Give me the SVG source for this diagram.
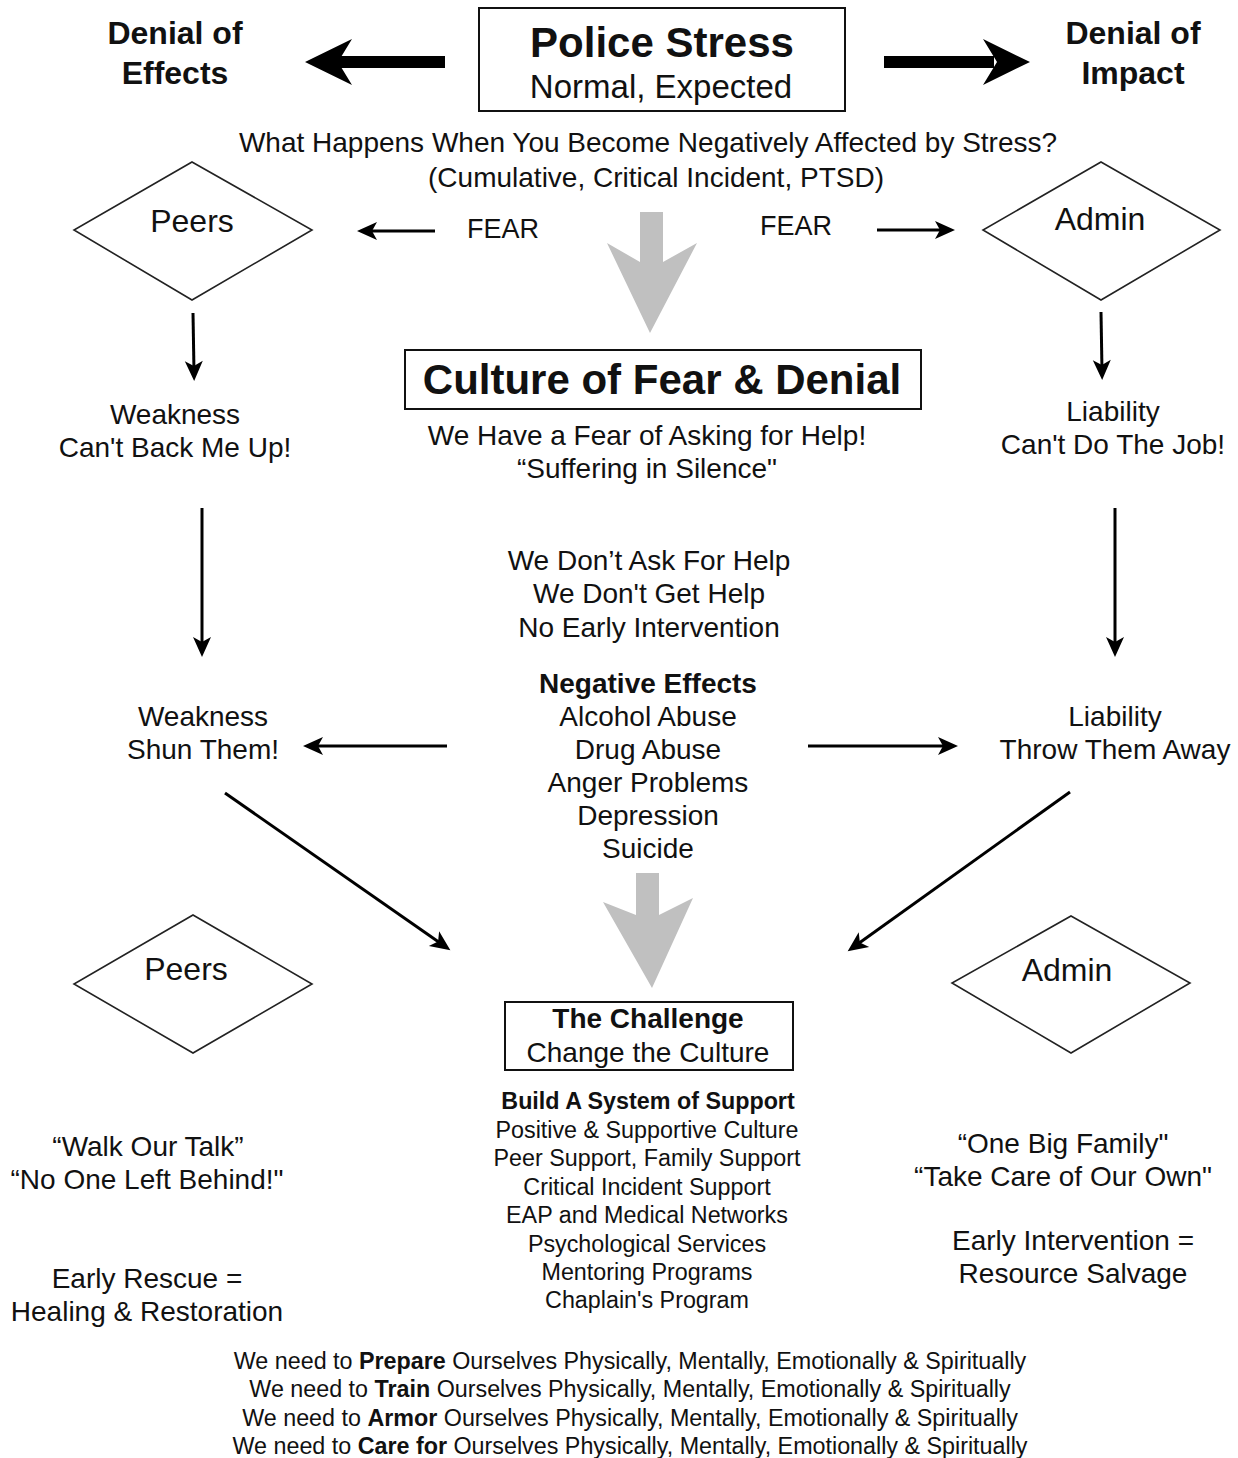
<svg xmlns="http://www.w3.org/2000/svg" width="1238" height="1458" viewBox="0 0 1238 1458">
<style>
  text { font-family: "Liberation Sans", Arial, Helvetica, sans-serif; fill: #111; text-anchor: middle; }
  .t28 { font-size: 28px; }
  .t23 { font-size: 23px; }
  .t23b { font-size: 23.3px; }
  .b { font-weight: bold; }
  .box { fill: #fff; stroke: #111; stroke-width: 2; }
  .diamond { fill: #fff; stroke: #222; stroke-width: 1.6; }
  .thin { stroke: #000; stroke-width: 3; fill: none; marker-end: url(#head); }
  .big { fill: #000; }
  .gray { fill: #c0c0c0; }
</style>
<defs>
  <marker id="head" markerUnits="userSpaceOnUse" markerWidth="22" markerHeight="20" refX="11" refY="9" orient="auto" overflow="visible">
    <path d="M0,0 L20,9 L0,18 L5,9 z" fill="#000"/>
  </marker>
</defs>
<rect width="1238" height="1458" fill="#fff"/>

<g id="connectors">
  <g id="arrow-denial-effects">
    <rect class="big" x="336" y="56" width="109" height="12"/>
    <polygon class="big" points="305,62 352,39 338,62 352,85"/>
  </g>
  <g id="arrow-denial-impact">
    <rect class="big" x="884" y="56" width="110" height="12"/>
    <polygon class="big" points="1030,62 983,39 997,62 983,85"/>
  </g>
  <line class="thin" x1="435" y1="231" x2="366" y2="231"/>
  <line class="thin" x1="877" y1="230" x2="946" y2="230"/>
  <polygon class="gray" points="640,212 663,212 663,262 697,243 650,333 607,243 640,262"/>
  <line class="thin" x1="193" y1="313" x2="194" y2="372"/>
  <line class="thin" x1="1101" y1="312" x2="1102" y2="371"/>
  <line class="thin" x1="202" y1="508" x2="202" y2="648"/>
  <line class="thin" x1="1115" y1="508" x2="1115" y2="648"/>
  <line class="thin" x1="447" y1="746" x2="312" y2="746"/>
  <line class="thin" x1="808" y1="746" x2="949" y2="746"/>
  <line class="thin" x1="225" y1="793" x2="443" y2="945"/>
  <line class="thin" x1="1070" y1="792" x2="855" y2="946"/>
  <polygon class="gray" points="636,873 659,873 659,915 693,898 652,988 603,902 636,915"/>
</g>

<g id="police-stress">
  <rect class="box" x="479" y="8" width="366" height="103"/>
  <text class="b" x="662" y="57" font-size="42">Police Stress</text>
  <text x="661" y="98" font-size="33">Normal, Expected</text>
</g>

<g id="denial-effects">
  <text class="b" x="175" y="44" font-size="32">Denial of</text>
  <text class="b" x="175" y="84" font-size="32">Effects</text>
</g>

<g id="denial-impact">
  <text class="b" x="1133" y="44" font-size="32">Denial of</text>
  <text class="b" x="1133" y="84" font-size="32">Impact</text>
</g>

<g id="question">
  <text class="t28" x="648" y="152">What Happens When You Become Negatively Affected by Stress?</text>
  <text class="t28" x="656" y="187">(Cumulative, Critical Incident, PTSD)</text>
</g>

<g id="peers-top">
  <polygon class="diamond" points="192,162 312,230 192,300 74,230"/>
  <text x="192" y="232" font-size="32">Peers</text>
</g>

<g id="admin-top">
  <polygon class="diamond" points="1101,162 1220,230 1101,300 983,230"/>
  <text x="1100" y="230" font-size="32">Admin</text>
</g>

<g id="fear-left">
  <text x="503" y="238" font-size="27">FEAR</text>
</g>
<g id="fear-right">
  <text x="796" y="235" font-size="27">FEAR</text>
</g>

<g id="culture">
  <rect class="box" x="405" y="350" width="516" height="59"/>
  <text class="b" x="662" y="394" font-size="42">Culture of Fear &amp; Denial</text>
  <text class="t28" x="647" y="445">We Have a Fear of Asking for Help!</text>
  <text class="t28" x="647" y="478">“Suffering in Silence"</text>
</g>

<g id="weakness-backup">
  <text class="t28" x="175" y="424">Weakness</text>
  <text class="t28" x="175" y="457">Can't Back Me Up!</text>
</g>

<g id="liability-job">
  <text class="t28" x="1113" y="421">Liability</text>
  <text class="t28" x="1113" y="454">Can't Do The Job!</text>
</g>

<g id="no-help">
  <text class="t28" x="649" y="570">We Don’t Ask For Help</text>
  <text class="t28" x="649" y="603">We Don't Get Help</text>
  <text class="t28" x="649" y="637">No Early Intervention</text>
</g>

<g id="negative-effects">
  <text class="t28 b" x="648" y="693">Negative Effects</text>
  <text class="t28" x="648" y="726">Alcohol Abuse</text>
  <text class="t28" x="648" y="759">Drug Abuse</text>
  <text class="t28" x="648" y="792">Anger Problems</text>
  <text class="t28" x="648" y="825">Depression</text>
  <text class="t28" x="648" y="858">Suicide</text>
</g>

<g id="weakness-shun">
  <text class="t28" x="203" y="726">Weakness</text>
  <text class="t28" x="203" y="759">Shun Them!</text>
</g>

<g id="liability-throw">
  <text class="t28" x="1115" y="726">Liability</text>
  <text class="t28" x="1115" y="759">Throw Them Away</text>
</g>

<g id="peers-bottom">
  <polygon class="diamond" points="193,915 312,984 193,1053 74,984"/>
  <text x="186" y="980" font-size="32">Peers</text>
</g>

<g id="admin-bottom">
  <polygon class="diamond" points="1071,916 1190,983 1071,1053 952,983"/>
  <text x="1067" y="981" font-size="32">Admin</text>
</g>

<g id="challenge">
  <rect class="box" x="505" y="1002" width="288" height="68"/>
  <text class="t28 b" x="648" y="1028">The Challenge</text>
  <text class="t28" x="648" y="1062">Change the Culture</text>
</g>

<g id="support">
  <text class="t23b b" x="648" y="1109">Build A System of Support</text>
  <text class="t23b" x="647" y="1138">Positive &amp; Supportive Culture</text>
  <text class="t23b" x="647" y="1166">Peer Support, Family Support</text>
  <text class="t23b" x="647" y="1195">Critical Incident Support</text>
  <text class="t23b" x="647" y="1223">EAP and Medical Networks</text>
  <text class="t23b" x="647" y="1252">Psychological Services</text>
  <text class="t23b" x="647" y="1280">Mentoring Programs</text>
  <text class="t23b" x="647" y="1308">Chaplain's Program</text>
</g>

<g id="peers-motto">
  <text class="t28" x="148" y="1156">“Walk Our Talk”</text>
  <text class="t28" x="147" y="1189">“No One Left Behind!"</text>
  <text class="t28" x="147" y="1288">Early Rescue =</text>
  <text class="t28" x="147" y="1321">Healing &amp; Restoration</text>
</g>

<g id="admin-motto">
  <text class="t28" x="1063" y="1153">“One Big Family"</text>
  <text class="t28" x="1063" y="1186">“Take Care of Our Own"</text>
  <text class="t28" x="1073" y="1250">Early Intervention =</text>
  <text class="t28" x="1073" y="1283">Resource Salvage</text>
</g>

<g id="bottom-lines">
  <text class="t23b" x="630" y="1369">We need to <tspan class="b">Prepare</tspan> Ourselves Physically, Mentally, Emotionally &amp; Spiritually</text>
  <text class="t23b" x="630" y="1397">We need to <tspan class="b">Train</tspan> Ourselves Physically, Mentally, Emotionally &amp; Spiritually</text>
  <text class="t23b" x="630" y="1426">We need to <tspan class="b">Armor</tspan> Ourselves Physically, Mentally, Emotionally &amp; Spiritually</text>
  <text class="t23b" x="630" y="1454">We need to <tspan class="b">Care for</tspan> Ourselves Physically, Mentally, Emotionally &amp; Spiritually</text>
</g>
</svg>
